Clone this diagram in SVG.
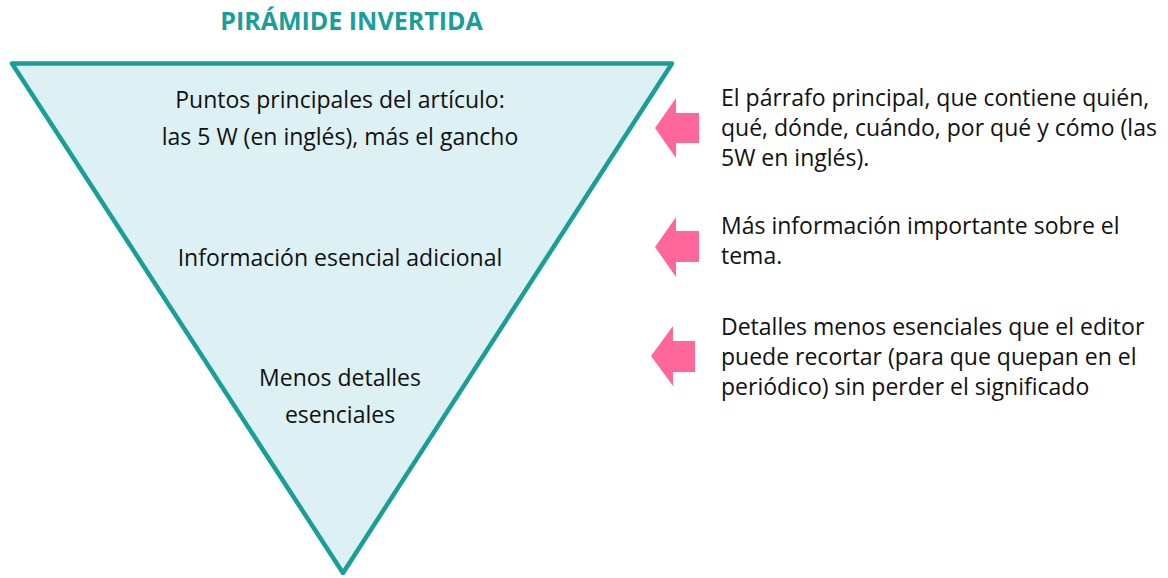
<svg xmlns="http://www.w3.org/2000/svg" width="1168" height="578" viewBox="0 0 1168 578">
<style>
.t{font-family:"Open Sans","Liberation Sans",sans-serif;font-size:23px;fill:#111}
.c{text-anchor:middle}
.title{font-family:"Open Sans","Liberation Sans",sans-serif;font-size:25px;font-weight:bold;fill:#1a9e9a;text-anchor:middle}
.arrow{fill:#ff6699}
</style>
<rect width="1168" height="578" fill="#fff"/>
<g id="title"><text class="title" x="351.5" y="29.5">PIRÁMIDE INVERTIDA</text></g>
<g id="pyramid">
<polygon points="12,63.5 672,63.5 343,573" fill="#ddf0f3" stroke="#1a9e9a" stroke-width="4.5" stroke-linejoin="round"/>
<text class="t c" x="340" y="108">Puntos principales del artículo:</text>
<text class="t c" x="340" y="145">las 5 W (en inglés), más el gancho</text>
<text class="t c" x="340" y="266">Información esencial adicional</text>
<text class="t c" x="340" y="386">Menos detalles</text>
<text class="t c" x="340" y="423">esenciales</text>
</g>
<g id="connectors">
<polygon class="arrow" points="655,128 676,98 676,113 699,113 699,143 676,143 676,158"/>
<polygon class="arrow" points="655,247 676,217 676,231 699,231 699,262 676,262 676,277"/>
<polygon class="arrow" points="651,356 673,326 673,341 695,341 695,372 673,372 673,386"/>
</g>
<g id="desc1">
<text class="t" x="721" y="105.5">El párrafo principal, que contiene quién,</text>
<text class="t" x="721" y="135.5">qué, dónde, cuándo, por qué y cómo (las</text>
<text class="t" x="721" y="165.5">5W en inglés).</text>
</g>
<g id="desc2">
<text class="t" x="721" y="234">Más información importante sobre el</text>
<text class="t" x="721" y="264">tema.</text>
</g>
<g id="desc3">
<text class="t" x="721" y="335">Detalles menos esenciales que el editor</text>
<text class="t" x="721" y="365">puede recortar (para que quepan en el</text>
<text class="t" x="721" y="395">periódico) sin perder el significado</text>
</g>
</svg>
